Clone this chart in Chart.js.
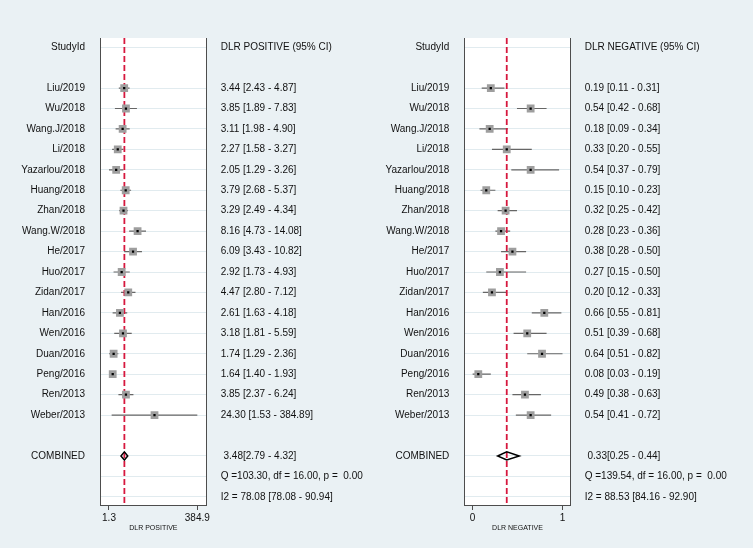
<!DOCTYPE html>
<html>
<head>
<meta charset="utf-8">
<script src="https://cdn.jsdelivr.net/npm/chart.js@4.4.1/dist/chart.umd.min.js"></script>
<style>
  html, body { margin: 0; padding: 0; background: #eaf1f4; }
  #wrap { position: relative; width: 753px; height: 548px; }
  canvas { position: absolute; top: 0; }
</style>
</head>
<body>
<div id="wrap">
  <canvas id="posChart" width="376" height="548" style="left:0px"></canvas>
  <canvas id="negChart" width="377" height="548" style="left:376px"></canvas>
</div>
<script>
// study names, top to bottom
const studies = ['Liu/2019', 'Wu/2018', 'Wang.J/2018', 'Li/2018', 'Yazarlou/2018', 'Huang/2018',
  'Zhan/2018', 'Wang.W/2018', 'He/2017', 'Huo/2017', 'Zidan/2017', 'Han/2016', 'Wen/2016',
  'Duan/2016', 'Peng/2016', 'Ren/2013', 'Weber/2013'];

// DLR positive
const posEst  = [3.44, 3.85, 3.11, 2.27, 2.05, 3.79, 3.29, 8.16, 6.09, 2.92, 4.47, 2.61, 3.18, 1.74, 1.64, 3.85, 24.30];
const posLow  = [2.43, 1.89, 1.98, 1.58, 1.29, 2.68, 2.49, 4.73, 3.43, 1.73, 2.80, 1.63, 1.81, 1.29, 1.40, 2.37, 1.53];
const posHigh = [4.87, 7.83, 4.90, 3.27, 3.26, 5.37, 4.34, 14.08, 10.82, 4.93, 7.12, 4.18, 5.59, 2.36, 1.93, 6.24, 384.89];
const posCombined = [3.48, 2.79, 4.32];
const posQ = [103.30, 16.00, 0.00];
const posI2 = [78.08, 78.08, 90.94];
const posTicks = [1.29, 384.89];
const posTickLabels = ['1.3', '384.9'];

// DLR negative
const negEst  = [0.19, 0.54, 0.18, 0.33, 0.54, 0.15, 0.32, 0.28, 0.38, 0.27, 0.20, 0.66, 0.51, 0.64, 0.08, 0.49, 0.54];
const negLow  = [0.11, 0.42, 0.09, 0.20, 0.37, 0.10, 0.25, 0.23, 0.28, 0.15, 0.12, 0.55, 0.39, 0.51, 0.03, 0.38, 0.41];
const negHigh = [0.31, 0.68, 0.34, 0.55, 0.79, 0.23, 0.42, 0.36, 0.50, 0.50, 0.33, 0.81, 0.68, 0.82, 0.19, 0.63, 0.72];
const negCombined = [0.33, 0.25, 0.44];
const negQ = [139.54, 16.00, 0.00];
const negI2 = [88.53, 84.16, 92.90];
const negTicks = [0.03, 0.82];
const negTickLabels = ['0', '1'];

Chart.defaults.font.family = '"Liberation Sans", Arial, sans-serif';
Chart.defaults.font.size = 10;
Chart.defaults.color = '#111111';

const plotBg = {
  id: 'plotBg',
  beforeDraw(chart) {
    const { ctx, chartArea: a } = chart;
    ctx.save();
    ctx.fillStyle = '#ffffff';
    ctx.fillRect(a.left, a.top, a.right - a.left, a.bottom - a.top);
    ctx.restore();
  }
};

const f = v => v.toFixed(2);
const yMin = -0.45, yMax = 22.4;

function forest(id, o) {
  const n = o.est.length;
  const cRow = n + 3;
  const leftText = { 0: 'StudyId' };
  const rightText = { 0: o.header };
  o.est.forEach((e, i) => {
    leftText[i + 2] = studies[i];
    rightText[i + 2] = f(e) + ' [' + f(o.low[i]) + ' - ' + f(o.high[i]) + ']';
  });
  leftText[cRow] = 'COMBINED';
  rightText[cRow] = ' ' + f(o.comb[0]) + '[' + f(o.comb[1]) + ' - ' + f(o.comb[2]) + ']';
  rightText[cRow + 1] = 'Q =' + f(o.q[0]) + ', df = ' + f(o.q[1]) + ', p =  ' + f(o.q[2]);
  rightText[cRow + 2] = 'I2 = ' + f(o.i2[0]) + ' [' + f(o.i2[1]) + ' - ' + f(o.i2[2]) + ']';

  const ciSets = o.est.map((e, i) => ({
    data: [{ x: o.low[i], y: i + 2 }, { x: o.high[i], y: i + 2 }],
    showLine: true, borderColor: '#666666', borderWidth: 1.2, pointRadius: 0, order: 5
  }));
  const c = o.comb;
  const datasets = ciSets.concat([
    { data: [{ x: c[0], y: yMin }, { x: c[0], y: yMax }],
      showLine: true, borderColor: '#d6183e', borderWidth: 1.8, borderDash: [6, 3], pointRadius: 0, order: 4 },
    { data: [{ x: c[1], y: cRow }, { x: c[0], y: cRow - 0.2 }, { x: c[2], y: cRow },
             { x: c[0], y: cRow + 0.2 }, { x: c[1], y: cRow }, { x: c[0], y: cRow - 0.2 }],
      showLine: true, borderColor: '#000', borderWidth: 1.5, pointRadius: 0, order: 3 },
    { data: o.est.map((e, i) => ({ x: e, y: i + 2 })),
      pointStyle: 'rect', pointRadius: 5.5, pointBackgroundColor: '#9e9e9e', pointBorderWidth: 0, order: 2 },
    { data: o.est.map((e, i) => ({ x: e, y: i + 2 })),
      pointStyle: 'rect', pointRadius: 1.6, pointBackgroundColor: '#000', pointBorderWidth: 0, order: 1 }
  ]);

  new Chart(document.getElementById(id), {
    type: 'scatter',
    data: { datasets },
    plugins: [plotBg],
    options: {
      responsive: false,
      devicePixelRatio: 1,
      animation: false,
      events: [],
      layout: { padding: { top: 38, left: 0, right: 0, bottom: 0 } },
      plugins: { legend: { display: false }, tooltip: { enabled: false } },
      scales: {
        x: {
          type: o.xType, min: o.xMin, max: o.xMax, bounds: 'data',
          afterBuildTicks: s => { s.ticks = o.ticks.map(v => ({ value: v })); },
          afterFit: s => { s.height = 43; },
          ticks: { callback: (v, i) => o.tickLabels[i], autoSkip: false, maxRotation: 0, padding: 2, font: { size: 10 } },
          grid: { display: true, drawOnChartArea: false, drawTicks: true, tickLength: 5, color: '#4d4d4d' },
          border: { display: true, color: '#4d4d4d', width: 1 },
          title: { display: true, text: o.xTitle, font: { size: 7 }, padding: { top: 0, bottom: 16 } }
        },
        y: {
          type: 'linear', position: 'left', reverse: true, min: yMin, max: yMax,
          afterBuildTicks: s => { s.ticks = Object.keys(leftText).map(k => ({ value: +k })); },
          afterFit: s => { s.width = o.leftW; },
          ticks: { callback: v => leftText[v] || '', autoSkip: false, padding: 15 },
          grid: { display: false, drawTicks: false },
          border: { display: true, color: '#4d4d4d', width: 1 }
        },
        y2: {
          type: 'linear', position: 'right', reverse: true, min: yMin, max: yMax,
          afterBuildTicks: s => { s.ticks = Object.keys(rightText).map(k => ({ value: +k })); },
          afterFit: s => { s.width = o.rightW; },
          ticks: { callback: v => rightText[v] || '', autoSkip: false, padding: 14 },
          grid: { display: true, drawOnChartArea: true, drawTicks: false, color: '#e1ebef', lineWidth: 1 },
          border: { display: true, color: '#4d4d4d', width: 1 }
        }
      }
    }
  });
}

forest('posChart', {
  est: posEst, low: posLow, high: posHigh, comb: posCombined, q: posQ, i2: posI2,
  header: 'DLR POSITIVE (95% CI)', xTitle: 'DLR POSITIVE',
  xType: 'logarithmic', xMin: 0.722, xMax: 705, ticks: posTicks, tickLabels: posTickLabels,
  leftW: 100, rightW: 169.3
});

forest('negChart', {
  est: negEst, low: negLow, high: negHigh, comb: negCombined, q: negQ, i2: negI2,
  header: 'DLR NEGATIVE (95% CI)', xTitle: 'DLR NEGATIVE',
  xType: 'linear', xMin: -0.043, xMax: 0.892, ticks: negTicks, tickLabels: negTickLabels,
  leftW: 88.3, rightW: 182.3
});
</script>
</body>
</html>
